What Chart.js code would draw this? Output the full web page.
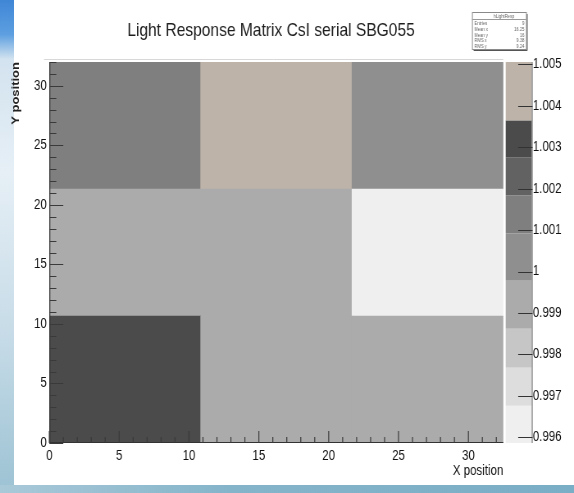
<!DOCTYPE html>
<html><head><meta charset="utf-8">
<script src="https://cdn.jsdelivr.net/npm/chart.js@4.4.1/dist/chart.umd.min.js"></script>
<style>
html,body{margin:0;padding:0;background:#fff;width:574px;height:493px;overflow:hidden}
body{position:relative}
.lstrip{position:absolute;left:0;top:0;width:14px;height:493px;
 background:linear-gradient(to bottom,#3f86d6 0%,#5d9fe0 7%,#d3e3ef 12%,#e6eff6 35%,#c4dae6 70%,#9cc2d3 100%)}
.bbar{position:absolute;left:0;top:485px;width:574px;height:8px;
 background:linear-gradient(to right,#a9c9d8,#84b4ca 40%,#7aaec6)}
#wrap{position:absolute;left:0;top:0;width:700px;height:493px;transform:scaleX(0.82);transform-origin:0 0}
</style></head>
<body>
<div class="lstrip"></div><div class="bbar"></div>
<div id="wrap"><canvas id="c" width="700" height="493"></canvas></div>
<script>
// ---- data ----
const titleText = 'Light Response Matrix CsI serial SBG055';
const xAxisTitle = 'X position';
const yAxisTitle = 'Y position';
const xRange = [0, 32.5];
const yRange = [0, 32];
const columnLabels = ['0-10.8', '10.8-21.7', '21.7-32.5'];
const yEdges = [0, 10.667, 21.333, 32];
const rowBottom = [1.0032, 0.9992, 0.9992];
const rowMiddle = [0.9992, 0.9992, 0.9963];
const rowTop = [1.0014, 1.0045, 1.0004];
const xTickValues = [0, 5, 10, 15, 20, 25, 30];
const yTickValues = [0, 5, 10, 15, 20, 25, 30];
const zRange = [0.99586, 1.00506];
const zTickValues = [0.996, 0.997, 0.998, 0.999, 1.000, 1.001, 1.002, 1.003, 1.004, 1.005];
const zTickLabels = ['0.996', '0.997', '0.998', '0.999', '1', '1.001', '1.002', '1.003', '1.004', '1.005'];
const levelEdges = [0.99586, 0.99676, 0.99768, 0.99862, 0.99978, 1.00092, 1.00184, 1.00276, 1.00365, 1.00506];
const levelColors = ['#efefef', '#dddddd', '#c6c6c6', '#ababab', '#8f8f8f', '#7f7f7f', '#626262', '#4b4b4b', '#bdb3a9'];
const statsHeader = 'hLightResp';
const statsLabels = ['Entries', 'Mean x', 'Mean y', 'RMS x', 'RMS y'];
const statsValues = ['9', '16.25', '16', '9.38', '9.24'];

const FONT = "'Liberation Sans', Arial, Helvetica, sans-serif";
const SX = 0.82; // horizontal squeeze of the reference picture

function colorFor(v) {
  for (let i = 0; i < levelColors.length; i++) {
    if (v >= levelEdges[i] && v < levelEdges[i + 1]) return levelColors[i];
  }
  return v < levelEdges[0] ? levelColors[0] : levelColors[levelColors.length - 1];
}
const rows = [rowBottom, rowMiddle, rowTop];
const datasets = rows.map((vals, r) => ({
  label: 'row' + r,
  data: vals.map(() => [yEdges[r], yEdges[r + 1]]),
  backgroundColor: vals.map(colorFor),
  borderWidth: 0,
  xAxisID: 'xc',
  yAxisID: 'y',
  grouped: false,
  barPercentage: 1,
  categoryPercentage: 1
}));

const decor = {
  id: 'decor',
  afterDatasetsDraw(chart) {
    const ctx = chart.ctx;
    const a = chart.chartArea;
    const sx = chart.scales.x, sy = chart.scales.y, sz = chart.scales.cb;
    const X = v => v / SX;
    ctx.save();
    // faint line above frame
    ctx.strokeStyle = '#d8d8d8'; ctx.lineWidth = 1;
    ctx.beginPath(); ctx.moveTo(X(44), a.top - 2.5); ctx.lineTo(a.right, a.top - 2.5); ctx.stroke();
    // axis lines
    ctx.strokeStyle = '#333'; ctx.lineWidth = 1.2;
    ctx.beginPath();
    ctx.moveTo(a.left + 0.6, a.top); ctx.lineTo(a.left + 0.6, a.bottom);
    ctx.moveTo(a.left, a.bottom - 0.5); ctx.lineTo(a.right, a.bottom - 0.5);
    ctx.stroke();
    // ticks inside
    ctx.strokeStyle = '#3a3a3a'; ctx.lineWidth = 1.2;
    ctx.beginPath();
    for (let v = Math.ceil(xRange[0]); v <= xRange[1]; v++) {
      const p = sx.getPixelForValue(v);
      const len = xTickValues.includes(v) ? 12 : 6;
      ctx.moveTo(p, a.bottom); ctx.lineTo(p, a.bottom - len);
    }
    ctx.stroke();
    ctx.lineWidth = 1;
    ctx.beginPath();
    for (let v = Math.ceil(yRange[0]); v <= yRange[1]; v++) {
      const p = Math.round(sy.getPixelForValue(v)) + 0.5;
      const len = yTickValues.includes(v) ? X(14) : X(7);
      ctx.moveTo(a.left, p); ctx.lineTo(a.left + len, p);
    }
    ctx.stroke();
    // colour bar
    const cbL = a.right + X(2.4), cbR = a.right + X(28.4);
    for (let i = 0; i < levelColors.length; i++) {
      const y0 = sz.getPixelForValue(levelEdges[i]);
      const y1 = sz.getPixelForValue(levelEdges[i + 1]);
      ctx.fillStyle = levelColors[i];
      ctx.fillRect(cbL, y1, cbR - cbL, y0 - y1);
    }
    ctx.strokeStyle = '#777'; ctx.lineWidth = 1.2;
    ctx.beginPath(); ctx.moveTo(cbR + 0.6, a.top); ctx.lineTo(cbR + 0.6, a.bottom); ctx.stroke();
    ctx.strokeStyle = '#333'; ctx.lineWidth = 1;
    ctx.beginPath();
    zTickValues.forEach(v => {
      const p = Math.round(sz.getPixelForValue(v)) + 0.5;
      ctx.moveTo(cbR - X(13.5), p); ctx.lineTo(cbR + 1, p);
    });
    ctx.stroke();
    // title
    ctx.fillStyle = '#1e1e1e';
    ctx.font = "19px " + FONT;
    ctx.textAlign = 'center'; ctx.textBaseline = 'middle';
    ctx.fillText(titleText, X(271), 31);
    // stats box
    const bx = X(472), by = 12, bw = X(54), bh = 37;
    ctx.fillStyle = '#fff';
    ctx.fillRect(bx, by, bw, bh);
    ctx.strokeStyle = '#8a8a8a'; ctx.lineWidth = 1;
    ctx.strokeRect(bx + 0.5, by + 0.5, bw, bh);
    ctx.strokeStyle = '#555';
    ctx.beginPath();
    ctx.moveTo(bx + 2, by + bh + 1.5); ctx.lineTo(bx + bw + 1.5, by + bh + 1.5); ctx.lineTo(bx + bw + 1.5, by + 2);
    ctx.stroke();
    ctx.strokeStyle = '#999';
    ctx.beginPath(); ctx.moveTo(bx, by + 7.5); ctx.lineTo(bx + bw, by + 7.5); ctx.stroke();
    ctx.fillStyle = '#666';
    ctx.font = "5px " + FONT;
    ctx.textAlign = 'center';
    ctx.fillText(statsHeader, bx + bw / 2 + 6, by + 4.5);
    statsLabels.forEach((s, i) => {
      const yy = by + 12 + i * 5.6;
      ctx.textAlign = 'left'; ctx.fillText(s, bx + 3, yy);
      ctx.textAlign = 'right'; ctx.fillText(statsValues[i], bx + bw - 2, yy);
    });
    ctx.restore();
  }
};

new Chart(document.getElementById('c'), {
  type: 'bar',
  data: { labels: columnLabels, datasets },
  options: {
    responsive: false,
    animation: false,
    events: [],
    layout: { padding: { top: 62, left: 0, right: 0, bottom: 0 } },
    plugins: { legend: { display: false }, tooltip: { enabled: false }, title: { display: false } },
    scales: {
      xc: { type: 'category', axis: 'x', display: false, offset: true },
      x: {
        type: 'linear', position: 'bottom', min: xRange[0], max: xRange[1], offset: false,
        grid: { display: false, drawTicks: false, offset: false },
        border: { display: false },
        afterBuildTicks: s => { s.ticks = xTickValues.map(v => ({ value: v })); },
        afterFit: s => { s.height = 50; },
        ticks: { padding: 5, font: { family: FONT, size: 14 }, color: '#111', maxRotation: 0, autoSkip: false },
        title: { display: true, text: xAxisTitle, align: 'end', font: { family: FONT, size: 14 }, color: '#111', padding: { top: 0, bottom: 13 } }
      },
      y: {
        type: 'linear', position: 'left', min: yRange[0], max: yRange[1],
        grid: { display: false, drawTicks: false },
        border: { display: false },
        afterBuildTicks: s => { s.ticks = yTickValues.map(v => ({ value: v })); },
        afterFit: s => { s.width = 49.3 / SX; },
        ticks: { padding: 3, font: { family: FONT, size: 14 }, color: '#111', autoSkip: false },
        title: { display: true, text: yAxisTitle, align: 'end', font: { family: FONT, size: 13, weight: 'bold' }, color: '#222', padding: { top: 12, bottom: 0 } }
      },
      cb: {
        type: 'linear', axis: 'y', position: 'right', min: zRange[0], max: zRange[1],
        grid: { display: false, drawTicks: false },
        border: { display: false },
        afterBuildTicks: s => { s.ticks = zTickValues.map(v => ({ value: v })); },
        afterFit: s => { s.width = (574 - 503.3) / SX; },
        ticks: { padding: 29.5 / SX, font: { family: FONT, size: 14 }, color: '#111', autoSkip: false,
          callback: (v, i) => zTickLabels[i] }
      }
    }
  },
  plugins: [decor]
});
</script>
</body></html>
